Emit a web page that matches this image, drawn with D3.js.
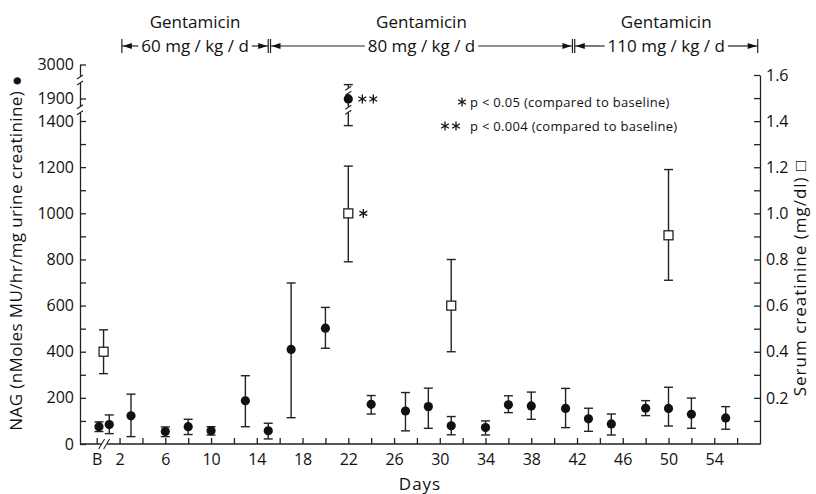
<!DOCTYPE html>
<html>
<head>
<meta charset="utf-8">
<script src="https://cdn.jsdelivr.net/npm/d3@7"></script>
<style>
  body { margin: 0; background: #fff; }
  text { font-family: "Open Sans", sans-serif; fill: #111; }
</style>
</head>
<body>
<div id="chart"></div>
<script>
// NAG (filled circles), mean with upper / lower error bar ends
const nagDays = [0.2, 1.1, 3, 6, 8, 10, 13, 15, 17, 20, 22, 24, 27, 29, 31, 34, 36, 38, 41, 43, 45, 48, 50, 52, 55]
const nagMean = [75, 84, 122, 54, 75, 57, 187, 57, 410, 502, 1890, 172, 143, 162, 79, 71, 170, 165, 154, 109, 87, 155, 154, 129, 113]
const nagHigh = [96, 126, 216, 74, 107, 75, 296, 90, 698, 592, 2350, 210, 223, 242, 119, 100, 209, 225, 241, 155, 130, 188, 246, 199, 162]
const nagLow = [54, 45, 32, 32, 41, 39, 75, 22, 114, 415, 1380, 130, 57, 68, 40, 39, 136, 107, 71, 55, 39, 123, 78, 68, 64]

// Serum creatinine (open squares)
const crDays = [0.6, 22, 31, 50]
const crMean = [0.40, 1.00, 0.60, 0.905]
const crHigh = [0.495, 1.205, 0.80, 1.19]
const crLow = [0.305, 0.79, 0.40, 0.71]

// Dosing periods along the top
const doseStart = [2.2, 15.2, 41.8]
const doseEnd = [15, 41.6, 57.8]
const doseLabels = ['60 mg / kg / d', '80 mg / kg / d', '110 mg / kg / d']

const xTicks = d3.range(0, 57, 2)
const nagTicks = d3.range(0, 1401, 100).concat([1900, 3000])
const crTicks = d3.range(1, 17).map(d => d / 10)

const W = 816, H = 494

const svg = d3.select('#chart')
    .append('svg')
    .attr('width', W)
    .attr('height', H)

const x = d3.scaleLinear().domain([-1.46, 58]).range([80, 760])
// broken left axis: 0-1400 linear, then 1900 and 3000 squeezed on top
const yNag = d3.scaleLinear().domain([0, 1400, 1900, 3000]).range([444, 121, 98.5, 64.5])
const yCr = d3.scaleLinear().domain([0, 1.6]).range([444, 75])

// Axes
const gx = svg.append('g')
    .attr('transform', `translate(0,${yNag(0)})`)
    .call(d3.axisBottom(x)
        .tickValues(xTicks)
        .tickSize(-6)
        .tickSizeOuter(0)
        .tickPadding(10)
        .tickFormat(d => d === 0 ? 'B' : ((d - 2) % 4 === 0 ? d : '')))
gx.select('.domain').attr('d', `M${x.range()[0]},0H${x.range()[1]}`)

const gl = svg.append('g')
    .attr('transform', `translate(${x.range()[0]},0)`)
    .call(d3.axisLeft(yNag)
        .tickValues(nagTicks)
        .tickSize(-6)
        .tickSizeOuter(0)
        .tickPadding(6)
        .tickFormat(d => d % 200 === 0 || d > 1400 ? d : ''))

const gr = svg.append('g')
    .attr('transform', `translate(${x.range()[1]},0)`)
    .call(d3.axisRight(yCr)
        .tickValues(crTicks)
        .tickSize(-6)
        .tickSizeOuter(0)
        .tickPadding(6)
        .tickFormat(d => Math.round(d * 10) % 2 === 0 ? d3.format('.1f')(d) : ''))

svg.selectAll('.domain, .tick line').attr('stroke', '#222').attr('stroke-width', 1.3)
svg.selectAll('.tick text')
    .style('font-size', '16px')
    .style('font-family', '"Open Sans", sans-serif')
    .attr('fill', '#111')

// Axis breaks (gaps with slashes)
function slashPair(cx, cy, vertical) {
    const g = svg.append('g')
    g.append('rect').attr('x', cx - 3).attr('y', cy - 3).attr('width', 6).attr('height', 6).attr('fill', '#fff')
    if (vertical) {
        ;[-3, 3].forEach(o => g.append('line')
            .attr('x1', cx - 3).attr('y1', cy + o + 2)
            .attr('x2', cx + 3).attr('y2', cy + o - 2)
            .attr('stroke', '#222').attr('stroke-width', 1.1))
    } else {
        ;[-2.5, 2.5].forEach(o => g.append('line')
            .attr('x1', cx + o - 3).attr('y1', cy + 5)
            .attr('x2', cx + o + 3).attr('y2', cy - 5)
            .attr('stroke', '#222').attr('stroke-width', 1.1))
    }
}
;[1650, 2500].forEach(v => slashPair(x.range()[0], yNag(v), true))
slashPair(x(0.65), yNag(0), false)

// Error bars
function errorBar(cx, y0, y1) {
    svg.append('line').attr('x1', cx).attr('x2', cx).attr('y1', y0).attr('y2', y1)
        .attr('stroke', '#222').attr('stroke-width', 1.4)
    ;[y0, y1].forEach(y => svg.append('line')
        .attr('x1', cx - 4.5).attr('x2', cx + 4.5).attr('y1', y).attr('y2', y)
        .attr('stroke', '#222').attr('stroke-width', 1.4))
}

nagDays.forEach((d, i) => errorBar(x(d), yNag(nagHigh[i]), yNag(nagLow[i])))
crDays.forEach((d, i) => errorBar(x(d), yCr(crHigh[i]), yCr(crLow[i])))

// the day-22 NAG bar crosses the axis break
;[1650, 2150].forEach(v => {
    const cx = x(22), cy = yNag(v)
    svg.append('rect').attr('x', cx - 2).attr('y', cy - 3).attr('width', 4).attr('height', 6).attr('fill', '#fff')
    ;[-2.5, 2.5].forEach(o => svg.append('line')
        .attr('x1', cx - 3).attr('y1', cy + o + 2)
        .attr('x2', cx + 3).attr('y2', cy + o - 2)
        .attr('stroke', '#222').attr('stroke-width', 1.1))
})

svg.selectAll('.nag')
    .data(nagDays)
    .enter()
    .append('circle')
    .attr('class', 'nag')
    .attr('cx', d => x(d))
    .attr('cy', (d, i) => yNag(nagMean[i]))
    .attr('r', 4.6)
    .attr('fill', '#111')

svg.selectAll('.cr')
    .data(crDays)
    .enter()
    .append('rect')
    .attr('class', 'cr')
    .attr('x', d => x(d) - 4.5)
    .attr('y', (d, i) => yCr(crMean[i]) - 4.5)
    .attr('width', 9)
    .attr('height', 9)
    .attr('fill', '#fff')
    .attr('stroke', '#222')
    .attr('stroke-width', 1.3)

// Asterisks
function star(cx, cy) {
    const r = 4.5
    ;[90, 30, -30].forEach(a => {
        const t = a * Math.PI / 180
        svg.append('line')
            .attr('x1', cx - r * Math.cos(t)).attr('y1', cy - r * Math.sin(t))
            .attr('x2', cx + r * Math.cos(t)).attr('y2', cy + r * Math.sin(t))
            .attr('stroke', '#111').attr('stroke-width', 1.3)
    })
}
star(x(22) + 14, yNag(1890))
star(x(22) + 25, yNag(1890))
star(x(22) + 15, yCr(1.0))

// Legend
star(462, 102)
star(445, 126)
star(456, 126)
svg.append('text').attr('x', 470).attr('y', 106.5).style('font-size', '13px').style('letter-spacing', '0.3px')
    .text('p < 0.05 (compared to baseline)')
svg.append('text').attr('x', 470).attr('y', 130.5).style('font-size', '13px').style('letter-spacing', '0.3px')
    .text('p < 0.004 (compared to baseline)')

// Dosing header
doseStart.forEach((s, i) => {
    const x0 = x(s), x1 = x(doseEnd[i]), mid = (x0 + x1) / 2
    const ly = 46
    svg.append('text').attr('x', mid).attr('y', 28).attr('text-anchor', 'middle')
        .style('font-size', '17px').text('Gentamicin')
    const t = svg.append('text').attr('x', mid).attr('y', 52).attr('text-anchor', 'middle')
        .style('font-size', '17px').text(doseLabels[i])
    const w = t.node().getComputedTextLength()
    const a = mid - w / 2 - 3, b = mid + w / 2 + 3
    svg.append('line').attr('x1', x0).attr('x2', a).attr('y1', ly).attr('y2', ly).attr('stroke', '#222').attr('stroke-width', 1.2)
    svg.append('line').attr('x1', b).attr('x2', x1).attr('y1', ly).attr('y2', ly).attr('stroke', '#222').attr('stroke-width', 1.2)
    ;[x0, x1].forEach(xx => svg.append('line').attr('x1', xx).attr('x2', xx).attr('y1', ly - 7).attr('y2', ly + 7)
        .attr('stroke', '#222').attr('stroke-width', 1.2))
    svg.append('path').attr('d', `M${x0 + 1},${ly}L${x0 + 10},${ly - 3}L${x0 + 10},${ly + 3}Z`).attr('fill', '#111')
    svg.append('path').attr('d', `M${x1 - 1},${ly}L${x1 - 10},${ly - 3}L${x1 - 10},${ly + 3}Z`).attr('fill', '#111')
})

// Axis titles
svg.append('text')
    .attr('transform', 'translate(22,253) rotate(-90)')
    .attr('text-anchor', 'middle')
    .style('font-size', '17px')
    .style('letter-spacing', '0.4px')
    .text('NAG (nMoles MU/hr/mg urine creatinine) \u25CF')

svg.append('text')
    .attr('transform', 'translate(806,278) rotate(-90)')
    .attr('text-anchor', 'middle')
    .style('font-size', '17px')
    .style('letter-spacing', '1px')
    .text('Serum creatinine  (mg/dl)  \u25A1')

svg.append('text')
    .attr('x', 420).attr('y', 490)
    .attr('text-anchor', 'middle')
    .style('font-size', '17px')
    .style('letter-spacing', '1px')
    .text('Days')
</script>
</body>
</html>
